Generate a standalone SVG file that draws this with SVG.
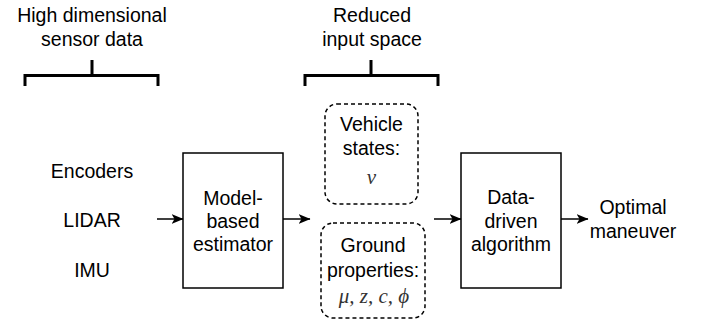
<svg xmlns="http://www.w3.org/2000/svg" width="702" height="320" viewBox="0 0 702 320">
<defs>
<style>
.t{font-family:"Liberation Sans",Arial,sans-serif;font-size:19.5px;fill:#000;text-anchor:middle}
.m{font-family:"Liberation Serif","DejaVu Serif",serif;font-style:italic;font-size:21px;fill:#333;text-anchor:middle}
.box{fill:#fff;stroke:#000;stroke-width:1.5}
.dash{fill:#fff;stroke:#000;stroke-width:1.5;stroke-dasharray:4 3}
.br{fill:none;stroke:#000;stroke-width:3}
.ln{fill:none;stroke:#000;stroke-width:1.5}
</style>
<marker id="ah" viewBox="0 0 12 10" refX="11.5" refY="5" markerWidth="12" markerHeight="10" markerUnits="userSpaceOnUse" orient="auto">
<path d="M0,0 L12,5 L0,10 L3,5 Z" fill="#000"/>
</marker>
</defs>
<rect width="702" height="320" fill="#fff"/>
<g id="label-high">
<text class="t" x="92" y="22">High dimensional</text>
<text class="t" x="92" y="46">sensor data</text>
<path class="br" d="M25,86 V75.5 H158 V86 M92,60 V75.5"/>
</g>
<g id="label-reduced">
<text class="t" x="372" y="22">Reduced</text>
<text class="t" x="372" y="46">input space</text>
<path class="br" d="M305,86 V75.5 H438 V86 M371,60 V75.5"/>
</g>
<g id="sensors">
<text class="t" x="92" y="178">Encoders</text>
<text class="t" x="92" y="227">LIDAR</text>
<text class="t" x="92" y="277">IMU</text>
</g>
<g id="estimator">
<rect class="box" x="183" y="153" width="100" height="135"/>
<text class="t" x="233" y="205">Model-</text>
<text class="t" x="233" y="228">based</text>
<text class="t" x="233" y="251">estimator</text>
</g>
<g id="vehicle-states">
<rect class="dash" x="325" y="104" width="93" height="100" rx="12"/>
<text class="t" x="371.5" y="131">Vehicle</text>
<text class="t" x="371.5" y="155">states:</text>
<text class="m" x="371.5" y="184">v</text>
</g>
<g id="ground-properties">
<rect class="dash" x="321" y="223" width="104" height="95" rx="12"/>
<text class="t" x="373" y="252">Ground</text>
<text class="t" x="373" y="277">properties:</text>
<text class="m" x="374" y="303">μ, z, c, ϕ</text>
</g>
<g id="algorithm">
<rect class="box" x="461" y="153" width="100" height="135"/>
<text class="t" x="511" y="204">Data-</text>
<text class="t" x="511" y="228">driven</text>
<text class="t" x="511" y="251">algorithm</text>
</g>
<g id="output">
<text class="t" x="633" y="214">Optimal</text>
<text class="t" x="633" y="238">maneuver</text>
</g>
<g id="connectors">
<line class="ln" x1="157" y1="219" x2="183" y2="219" marker-end="url(#ah)"/>
<line class="ln" x1="283" y1="219" x2="310" y2="219" marker-end="url(#ah)"/>
<line class="ln" x1="434" y1="219" x2="461" y2="219" marker-end="url(#ah)"/>
<line class="ln" x1="561" y1="219" x2="588" y2="219" marker-end="url(#ah)"/>
</g>
</svg>
